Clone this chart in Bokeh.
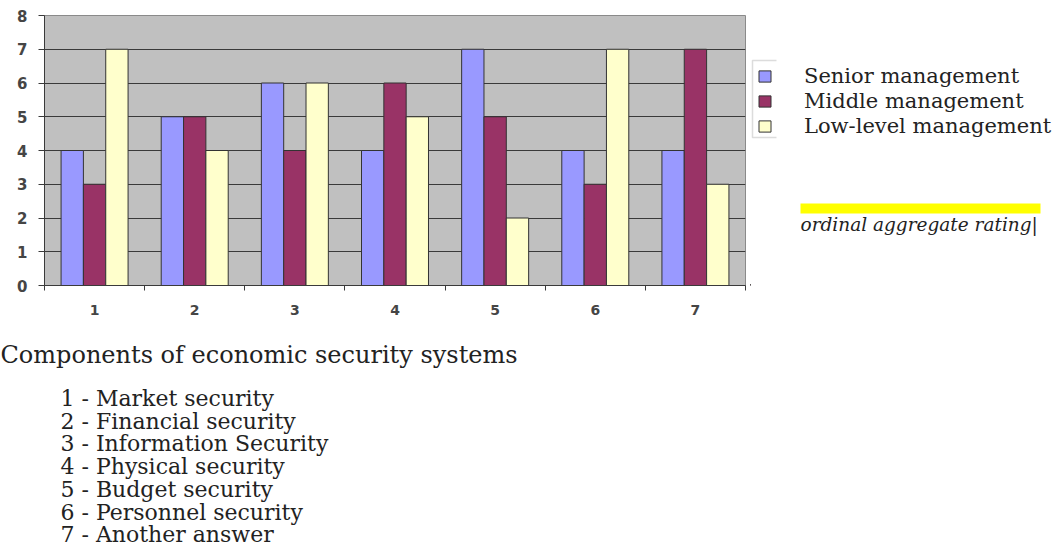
from bokeh.plotting import figure
from bokeh.models import (ColumnDataSource, Range1d, FixedTicker, Label, Legend,
                          LegendItem, BoxAnnotation, PolyAnnotation)
from bokeh.layouts import column, row
from bokeh.transform import dodge
from bokeh.embed import file_html
from bokeh.resources import INLINE

# ---- data ----
components = [1, 2, 3, 4, 5, 6, 7]
senior = [4, 5, 6, 4, 7, 4, 4]
middle = [3, 5, 4, 6, 5, 3, 7]
low = [7, 4, 6, 5, 2, 7, 3]
series_names = ["Senior management", "Middle management", "Low-level management"]
y_ticks = [0, 1, 2, 3, 4, 5, 6, 7, 8]
x_title = "Components of economic security systems"
component_names = [
    "1 - Market security",
    "2 - Financial security",
    "3 - Information Security",
    "4 - Physical security",
    "5 - Budget security",
    "6 - Personnel security",
    "7 - Another answer",
]
note_text = "ordinal aggregate rating|"
colors = ["#9999ff", "#993366", "#ffffcc"]

# ---- layout constants (page pixels) ----
W, H = 1061, 548
FL, FT, FR, FB = 44, 15, 745, 285      # chart frame
CW, CH = 750, 320                      # chart figure size
SERIF = "DejaVu Serif"
TXT = "#222222"
AX = "#3a3a3a"

# ================= chart =================
p = figure(width=CW, height=CH, output_backend="svg", toolbar_location=None,
           x_range=Range1d(0.5, 7.5), y_range=Range1d(0, 8),
           min_border_left=FL, min_border_right=CW - FR,
           min_border_top=FT, min_border_bottom=CH - FB)
p.background_fill_color = "#c0c0c0"
p.border_fill_color = "white"
p.outline_line_color = "#8a8a8a"

src = ColumnDataSource(dict(x=components, senior=senior, middle=middle, low=low))
bw = 0.223
r1 = p.vbar(x=dodge("x", -bw), top="senior", width=bw, source=src,
            fill_color=colors[0], line_color="#333333", line_width=1)
r2 = p.vbar(x=dodge("x", 0), top="middle", width=bw, source=src,
            fill_color=colors[1], line_color="#333333", line_width=1)
r3 = p.vbar(x=dodge("x", bw), top="low", width=bw, source=src,
            fill_color=colors[2], line_color="#333333", line_width=1)

p.xgrid.visible = False
p.ygrid.ticker = FixedTicker(ticks=y_ticks)
p.ygrid.grid_line_color = AX
p.ygrid.grid_line_width = 1

p.yaxis.ticker = FixedTicker(ticks=y_ticks)
p.yaxis.axis_line_color = AX
p.yaxis.major_tick_line_color = AX
p.yaxis.major_tick_out = 6
p.yaxis.major_tick_in = 0
p.yaxis.minor_tick_line_color = None
p.yaxis.major_label_standoff = 11
p.yaxis.major_label_text_font = "DejaVu Sans"
p.yaxis.major_label_text_font_style = "bold"
p.yaxis.major_label_text_font_size = "15px"
p.yaxis.major_label_text_color = "#454545"

p.xaxis.ticker = FixedTicker(ticks=components,
                             minor_ticks=[c - 0.5 for c in components] + [components[-1] + 0.5])
p.xaxis.axis_line_color = AX
p.xaxis.major_tick_line_color = None
p.xaxis.major_tick_out = 0
p.xaxis.major_tick_in = 0
p.xaxis.minor_tick_line_color = AX
p.xaxis.minor_tick_out = 5
p.xaxis.minor_tick_in = 0
p.xaxis.major_label_standoff = 14
p.xaxis.major_label_text_font = "DejaVu Sans"
p.xaxis.major_label_text_font_style = "bold"
p.xaxis.major_label_text_font_size = "14px"
p.xaxis.major_label_text_color = "#454545"

# ================= side panel (legend + note) =================
SW = W - CW
s = figure(width=SW, height=CH, output_backend="svg", toolbar_location=None,
           x_range=Range1d(0, SW), y_range=Range1d(0, FB - FT),
           x_axis_location=None, y_axis_location=None,
           min_border_left=0, min_border_right=0,
           min_border_top=FT, min_border_bottom=CH - FB)
s.outline_line_color = None
s.grid.visible = False
s.background_fill_color = "white"
s.border_fill_color = "white"


def sx(cx):
    return cx - CW


def sy(cy):
    return FB - cy


# legend swatches use the same styles as the bars (dummy renderers kept out of view)
sw = [s.vbar(x=[-1000], top=[1], width=1, fill_color=c, line_color="#333333") for c in colors]
legend = Legend(items=[LegendItem(label=n, renderers=[r]) for n, r in zip(series_names, sw)],
                location=(sx(757), sy(138)))
legend.border_line_color = None
legend.background_fill_alpha = 0
legend.padding = 0
legend.margin = 0
legend.spacing = 0
legend.glyph_width = 15
legend.glyph_height = 14
legend.label_height = 25
legend.label_standoff = 32
legend.label_text_font = SERIF
legend.label_text_font_size = "21px"
legend.label_text_color = TXT
s.add_layout(legend, "center")

s.add_layout(PolyAnnotation(xs=[sx(776), sx(752), sx(752), sx(776), sx(752), sx(752)],
                            ys=[sy(60), sy(60), sy(137), sy(137), sy(137), sy(60)],
                            xs_units="screen", ys_units="screen",
                            fill_alpha=0, line_color="#8a8a8a", line_width=1.5))

s.add_layout(BoxAnnotation(left=sx(800), right=sx(1040), top=sy(203), bottom=sy(213),
                           left_units="screen", right_units="screen",
                           top_units="screen", bottom_units="screen",
                           fill_color="#ffff00", fill_alpha=1, line_color=None))
s.add_layout(Label(x=sx(800), y=sy(224), x_units="screen", y_units="screen",
                   text=note_text, text_font=SERIF, text_font_style="italic",
                   text_font_size="18.5px", text_color=TXT, text_baseline="alphabetic"))

# ================= bottom panel (title + component list) =================
BH = H - CH
b = figure(width=W, height=BH, output_backend="svg", toolbar_location=None,
           x_range=Range1d(0, W), y_range=Range1d(0, BH),
           x_axis_location=None, y_axis_location=None, min_border=0)
b.outline_line_color = None
b.grid.visible = False
b.background_fill_color = "white"
b.border_fill_color = "white"


def by(cy):
    return H - cy


b.add_layout(Label(x=0, y=by(354), x_units="screen", y_units="screen",
                   text=x_title, text_font=SERIF, text_font_size="24px",
                   text_color=TXT, text_baseline="alphabetic"))
for i, name in enumerate(component_names):
    b.add_layout(Label(x=60, y=by(398 + i * 22.7), x_units="screen", y_units="screen",
                       text=name, text_font=SERIF, text_font_size="22px",
                       text_color=TXT, text_baseline="alphabetic"))

page = column(row(p, s, spacing=0), b, spacing=0)
open("out.html", "w").write(file_html(page, INLINE))
